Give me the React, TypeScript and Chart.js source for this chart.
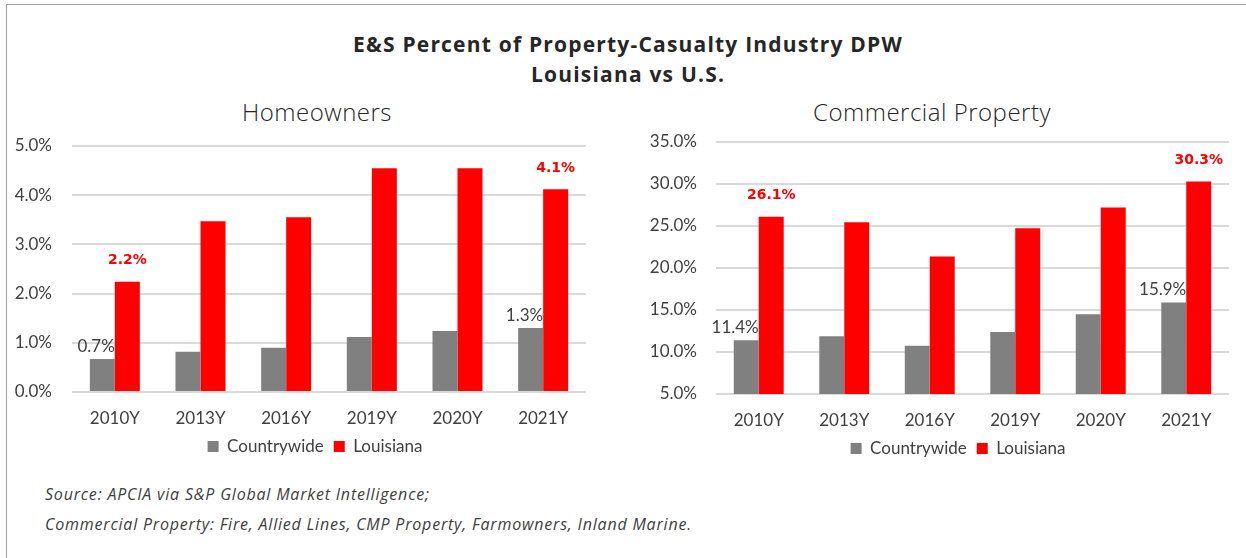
import React, { useEffect, useRef } from "react";
import { Chart, registerables } from "chart.js";

Chart.register(...registerables);

// ---------- data ----------
const categories = ["2010Y", "2013Y", "2016Y", "2019Y", "2020Y", "2021Y"];
const seriesNames = ["Countrywide", "Louisiana"];

const homeCountrywide = [0.67, 0.82, 0.9, 1.12, 1.24, 1.3];
const homeLouisiana = [2.24, 3.47, 3.55, 4.55, 4.55, 4.12];

const commCountrywide = [11.4, 11.87, 10.75, 12.39, 14.5, 15.9];
const commLouisiana = [26.1, 25.46, 21.38, 24.74, 27.2, 30.3];

const homeAxis = { min: 0, max: 5, step: 1 };
const commAxis = { min: 5, max: 35, step: 5 };

// points that carry a value label (first and last year)
const labeledPoints = [0, 5];

const mainTitle = ["E&S Percent of Property-Casualty Industry DPW", "Louisiana vs U.S."];
const panelTitles = ["Homeowners", "Commercial Property"];
const footnotes = [
  "Source: APCIA via S&P Global Market Intelligence;",
  "Commercial Property: Fire, Allied Lines, CMP Property, Farmowners, Inland Marine.",
];

// ---------- styles ----------
const GRAY = "#808080";
const RED = "#ff0000";
const TEXT = "#404040";
const TICK_FONT = { family: "Lato, 'Noto Sans', sans-serif", size: 17 };

const valueLabelPlugin = {
  id: "valueLabels",
  afterDatasetsDraw(chart: any, _args: any, opts: any) {
    const ctx = chart.ctx;
    const styles = opts.styles || [];
    chart.data.datasets.forEach((ds: any, di: number) => {
      const meta = chart.getDatasetMeta(di);
      const st = styles[di];
      if (!st || meta.hidden) return;
      ctx.save();
      ctx.font = st.font;
      ctx.fillStyle = st.color;
      ctx.textAlign = st.align;
      ctx.textBaseline = "middle";
      (opts.indexes || []).forEach((i: number) => {
        const el = meta.data[i];
        const v = ds.data[i];
        if (!el || v == null) return;
        const p = el.getProps(["x", "y", "width"], true);
        const x = st.align === "right" ? p.x + p.width / 2 : p.x;
        ctx.fillText(Number(v).toFixed(1) + "%", x, p.y + st.dy);
      });
      ctx.restore();
    });
  },
};

type PanelProps = {
  countrywide: number[];
  louisiana: number[];
  axis: { min: number; max: number; step: number };
  left: number;
  top: number;
  width: number;
  height: number;
  padTop: number;
  padBottom: number;
  yWidth: number;
  yPad: number;
  y2Width: number;
};

function BarPanel(props: PanelProps) {
  const ref = useRef<HTMLCanvasElement | null>(null);
  useEffect(() => {
    if (!ref.current) return;
    const chart = new Chart(ref.current, {
      type: "bar",
      data: {
        labels: categories,
        datasets: [
          { label: seriesNames[0], data: props.countrywide, backgroundColor: GRAY, borderWidth: 0 },
          { label: seriesNames[1], data: props.louisiana, backgroundColor: RED, borderWidth: 0 },
        ],
      },
      options: {
        animation: false,
        responsive: false,
        devicePixelRatio: 1,
        layout: { padding: { left: 0, right: 0, top: props.padTop, bottom: props.padBottom } },
        datasets: { bar: { barPercentage: 1, categoryPercentage: 0.584 } },
        scales: {
          x: {
            grid: { display: false, drawTicks: false },
            border: { display: false },
            ticks: { color: TEXT, font: TICK_FONT, padding: 16, maxRotation: 0, autoSkip: false },
            afterFit: (s: any) => {
              s.height = 36;
            },
          },
          y: {
            min: props.axis.min,
            max: props.axis.max,
            grid: { color: "#d9d9d9", lineWidth: 2, drawTicks: false },
            border: { display: false },
            ticks: {
              stepSize: props.axis.step,
              color: TEXT,
              font: TICK_FONT,
              padding: props.yPad,
              callback: (v: any) => Number(v).toFixed(1) + "%",
            },
            afterFit: (s: any) => {
              s.width = props.yWidth;
              // only half a label of overhang is needed above/below the plot
              s.paddingTop = 11;
              s.paddingBottom = 11;
            },
          },
          // empty spacer axis on the right, keeps the legend centred like the original
          spacer: {
            type: "linear",
            position: "right",
            display: true,
            grid: { display: false, drawTicks: false },
            border: { display: false },
            ticks: { display: false },
            afterFit: (s: any) => {
              s.width = props.y2Width;
            },
          },
        },
        plugins: {
          legend: {
            position: "bottom",
            labels: { boxWidth: 11, boxHeight: 11, color: TEXT, font: TICK_FONT, padding: 10 },
          },
          tooltip: { enabled: false },
          title: { display: false },
          valueLabels: {
            indexes: labeledPoints,
            styles: [
              { color: TEXT, font: "17px Lato, 'Noto Sans', sans-serif", align: "right", dy: -13 },
              { color: RED, font: "bold 14px 'DejaVu Sans', sans-serif", align: "center", dy: -21 },
            ],
          },
        } as any,
      },
      plugins: [valueLabelPlugin],
    } as any);
    return () => chart.destroy();
  }, []);
  return (
    <canvas
      ref={ref}
      width={props.width}
      height={props.height}
      style={{ position: "absolute", left: props.left, top: props.top, width: props.width, height: props.height }}
    />
  );
}

function CenteredText(p: { cx: number; cy: number; text: string; style: React.CSSProperties }) {
  return (
    <div
      style={{
        position: "absolute",
        left: p.cx,
        top: p.cy,
        transform: "translate(-50%, -50%)",
        whiteSpace: "nowrap",
        lineHeight: 1,
        ...p.style,
      }}
    >
      {p.text}
    </div>
  );
}

export default function App() {
  const titleStyle: React.CSSProperties = {
    fontFamily: "'Open Sans', sans-serif",
    fontWeight: 700,
    fontSize: 21,
    letterSpacing: 1.2,
    color: "#262626",
  };
  const panelTitleStyle: React.CSSProperties = {
    fontFamily: "'Open Sans', sans-serif",
    fontWeight: 300,
    fontSize: 24,
    letterSpacing: 0.5,
    color: "#262626",
  };
  const noteStyle: React.CSSProperties = {
    position: "absolute",
    left: 45,
    fontFamily: "'Open Sans', sans-serif",
    fontStyle: "italic",
    fontSize: 16,
    letterSpacing: 0.8,
    color: TEXT,
    whiteSpace: "nowrap",
    lineHeight: 1,
    transform: "translateY(-50%)",
  };
  return (
    <div
      style={{
        position: "absolute",
        left: 0,
        top: 0,
        width: 1246,
        height: 558,
        overflow: "hidden",
        background: "#ffffff",
      }}
    >
      <div
        style={{
          position: "absolute",
          left: 6,
          top: 4,
          right: 0,
          bottom: 0,
          borderTop: "1px solid #a0a0a0",
          borderLeft: "1px solid #a0a0a0",
        }}
      />
      <CenteredText cx={628} cy={44} text={mainTitle[0]} style={titleStyle} />
      <CenteredText cx={628} cy={74} text={mainTitle[1]} style={titleStyle} />
      <CenteredText cx={317} cy={112} text={panelTitles[0]} style={panelTitleStyle} />
      <CenteredText cx={932} cy={112} text={panelTitles[1]} style={panelTitleStyle} />

      <BarPanel
        countrywide={homeCountrywide}
        louisiana={homeLouisiana}
        axis={homeAxis}
        left={0}
        top={120}
        width={630}
        height={350}
        padTop={26}
        padBottom={5}
        yWidth={72}
        yPad={20}
        y2Width={44}
      />
      <BarPanel
        countrywide={commCountrywide}
        louisiana={commLouisiana}
        axis={commAxis}
        left={620}
        top={120}
        width={676}
        height={350}
        padTop={22}
        padBottom={3}
        yWidth={96}
        yPad={19}
        y2Width={67}
      />

      <div style={{ ...noteStyle, top: 494 }}>{footnotes[0]}</div>
      <div style={{ ...noteStyle, top: 524 }}>{footnotes[1]}</div>
    </div>
  );
}
